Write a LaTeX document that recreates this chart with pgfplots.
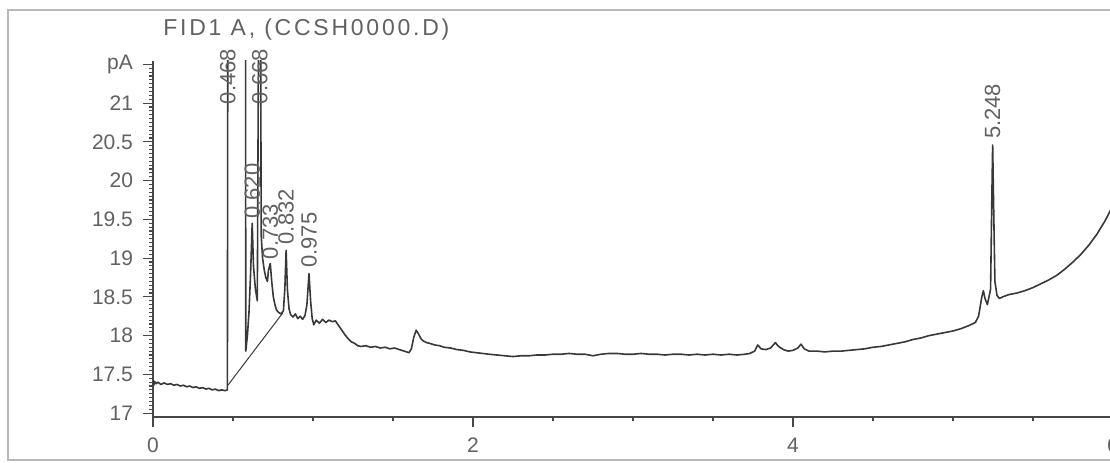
\documentclass[border=0pt]{standalone}
\usepackage{fontspec}
\setmainfont{Liberation Sans}
\usepackage{pgfplots}
\pgfplotsset{compat=1.18}

\definecolor{trace}{gray}{0.22}
\definecolor{axisgray}{gray}{0.28}
\definecolor{textgray}{gray}{0.38}

\tikzset{peak/.style={rotate=90, anchor=west, inner sep=0.5pt, text=textgray,
    font=\fontsize{11}{12}\selectfont}}

\begin{document}
\begin{tikzpicture}
% page area
\useasboundingbox (-76.5pt,-22.5pt) rectangle (478.5pt,208.5pt);
\draw[gray!55,line width=1pt] (-72.5pt,-21.5pt) rectangle (495pt,203.5pt);
\node[anchor=base west,inner sep=0pt,text=textgray,font=\fontsize{11.5}{13}\selectfont\addfontfeatures{LetterSpace=12}]
  at (5pt,191pt) {FID1 A, (CCSH0000.D)};

\begin{axis}[
  at={(0pt,0pt)}, anchor=south west,
  scale only axis, width=480pt, height=178.25pt,
  xmin=0, xmax=6, ymin=16.95, ymax=21.55,
  axis x line=bottom, axis y line=left,
  axis line style={-, draw=axisgray, line width=0.8pt},
  tick align=outside,
  tick style={axisgray, line width=0.6pt},
  major tick length=5pt, minor tick length=2pt,
  xtick={0,2,4,6}, minor x tick num=3,
  ytick={17,17.5,...,21.5},
  yticklabels={17,17.5,18,18.5,19,19.5,20,20.5,21,pA},
  minor y tick num=9,
  /pgf/number format/assume math mode=true,
  ticklabel style={font=\fontsize{10.5}{12}\selectfont, text=textgray},
  yticklabel style={xshift=-1.5pt},
  xticklabel style={yshift=-2pt},
  clip mode=individual,
]
% detector signal
\addplot[trace, line width=0.8pt, line join=round] table {
t v
0.000 17.42
0.005 17.36
0.010 17.41
0.020 17.38
0.030 17.40
0.050 17.37
0.070 17.39
0.090 17.37
0.110 17.38
0.130 17.36
0.150 17.37
0.170 17.35
0.190 17.36
0.210 17.34
0.230 17.35
0.250 17.33
0.270 17.34
0.290 17.32
0.310 17.33
0.330 17.31
0.350 17.32
0.370 17.30
0.390 17.31
0.410 17.29
0.430 17.30
0.450 17.29
0.465 17.30
0.468 23.00
0.578 23.00
0.580 17.80
0.590 18.00
0.600 18.30
0.610 18.80
0.620 19.45
0.628 18.90
0.640 18.60
0.652 18.45
0.662 23.00
0.672 23.00
0.676 19.30
0.685 19.00
0.695 18.85
0.705 18.75
0.715 18.70
0.722 18.85
0.733 18.93
0.742 18.70
0.752 18.50
0.762 18.40
0.772 18.33
0.785 18.30
0.800 18.28
0.815 18.32
0.824 18.60
0.832 19.10
0.840 18.60
0.850 18.35
0.860 18.27
0.875 18.24
0.890 18.28
0.905 18.22
0.920 18.25
0.935 18.21
0.950 18.26
0.962 18.40
0.975 18.80
0.985 18.45
0.995 18.22
1.005 18.14
1.020 18.20
1.040 18.16
1.060 18.21
1.080 18.17
1.100 18.20
1.120 18.18
1.140 18.19
1.160 18.13
1.180 18.07
1.200 18.01
1.220 17.96
1.240 17.92
1.260 17.90
1.280 17.87
1.300 17.86
1.330 17.87
1.360 17.85
1.390 17.86
1.420 17.84
1.450 17.85
1.480 17.83
1.510 17.84
1.540 17.82
1.570 17.80
1.600 17.78
1.615 17.83
1.630 17.98
1.645 18.07
1.660 18.02
1.675 17.96
1.690 17.93
1.710 17.91
1.730 17.90
1.760 17.88
1.790 17.87
1.820 17.85
1.860 17.84
1.900 17.82
1.940 17.81
1.980 17.79
2.020 17.78
2.060 17.77
2.100 17.76
2.150 17.75
2.200 17.74
2.250 17.73
2.300 17.74
2.350 17.74
2.400 17.75
2.450 17.75
2.500 17.76
2.550 17.76
2.600 17.77
2.650 17.76
2.700 17.76
2.750 17.74
2.800 17.76
2.850 17.77
2.900 17.77
2.950 17.76
3.000 17.76
3.050 17.77
3.100 17.76
3.150 17.76
3.200 17.75
3.250 17.76
3.300 17.76
3.350 17.75
3.400 17.76
3.450 17.75
3.500 17.76
3.550 17.75
3.600 17.76
3.650 17.75
3.700 17.76
3.730 17.77
3.760 17.80
3.780 17.88
3.800 17.83
3.830 17.82
3.860 17.84
3.890 17.91
3.910 17.86
3.940 17.82
3.970 17.80
4.000 17.81
4.030 17.84
4.050 17.89
4.070 17.83
4.100 17.80
4.150 17.80
4.200 17.79
4.250 17.80
4.300 17.80
4.350 17.81
4.400 17.82
4.450 17.83
4.500 17.85
4.550 17.86
4.600 17.88
4.650 17.90
4.700 17.92
4.750 17.95
4.800 17.97
4.850 18.00
4.900 18.02
4.950 18.04
5.000 18.06
5.050 18.09
5.100 18.13
5.140 18.17
5.160 18.25
5.180 18.50
5.190 18.58
5.200 18.48
5.215 18.40
5.235 18.60
5.243 19.80
5.248 20.46
5.253 19.80
5.262 18.70
5.275 18.52
5.290 18.48
5.310 18.50
5.350 18.53
5.400 18.55
5.450 18.58
5.500 18.62
5.550 18.67
5.600 18.72
5.650 18.78
5.700 18.86
5.750 18.95
5.800 19.05
5.850 19.17
5.900 19.31
5.950 19.48
6.000 19.68
};
% integration baseline under the early peaks
\addplot[trace, line width=0.5pt] table {
t v
0.468 17.36
0.810 18.29
};
% retention-time labels
\node[peak] at (axis cs:0.468,20.97) {0.468};
\node[peak] at (axis cs:0.668,20.97) {0.668};
\node[peak] at (axis cs:0.620,19.49) {0.620};
\node[peak] at (axis cs:0.733,18.97) {0.733};
\node[peak] at (axis cs:0.832,19.16) {0.832};
\node[peak] at (axis cs:0.975,18.86) {0.975};
\node[peak] at (axis cs:5.248,20.52) {5.248};
\end{axis}
\end{tikzpicture}
\end{document}
